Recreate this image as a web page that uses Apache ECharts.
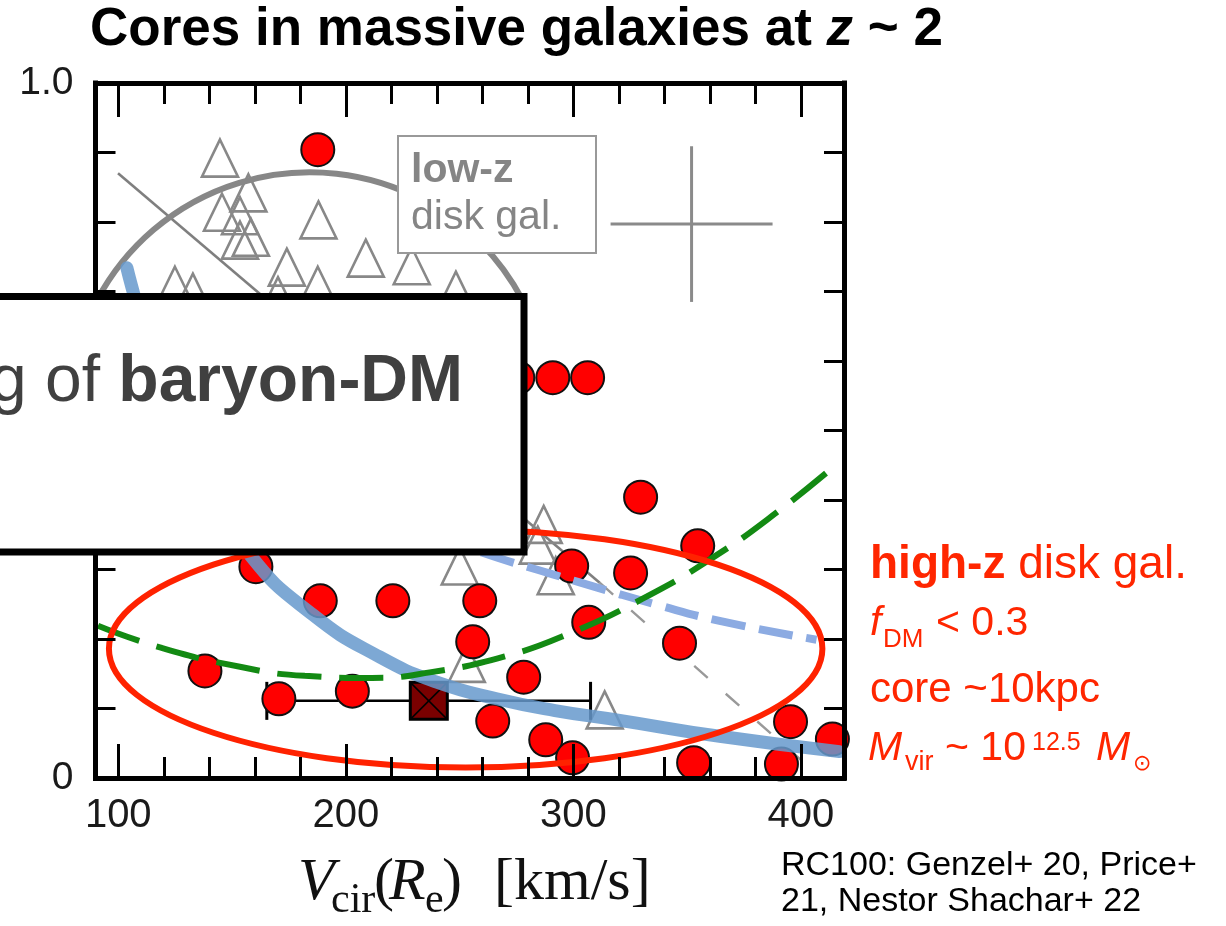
<!DOCTYPE html>
<html>
<head>
<meta charset="utf-8">
<script src="https://cdn.jsdelivr.net/npm/echarts@6/dist/echarts.min.js"></script>
<style>
  html, body { margin: 0; padding: 0; background: #fff; }
  #chart { width: 1226px; height: 926px; }
</style>
</head>
<body>
<div id="chart"></div>
<script>
// Dark-matter fraction within R_e versus circular velocity V_cir(R_e) [km/s]

// high-z disk galaxies (RC100), filled red circles: [V_cir, f_DM]
const highZ = [
  [187.7, 0.904], [291.0, 0.576], [306.3, 0.576], [275.6, 0.576],
  [329.6, 0.404], [354.7, 0.334], [299.3, 0.305], [325.2, 0.295],
  [160.5, 0.304], [188.8, 0.255], [220.7, 0.255], [258.9, 0.255],
  [255.8, 0.196], [138.1, 0.154], [170.6, 0.114], [202.9, 0.125],
  [306.8, 0.224], [278.2, 0.145], [264.6, 0.082], [287.9, 0.055],
  [299.7, 0.029], [346.7, 0.194], [352.9, 0.022], [395.5, 0.081],
  [391.5, 0.020], [413.9, 0.056]
];

// low-z disk galaxies, open gray triangles
const lowZ = [
  [144.7, 0.892], [157.2, 0.842], [145.6, 0.814], [153.5, 0.809],
  [158.3, 0.778], [153.5, 0.774], [188.0, 0.803], [174.1, 0.735],
  [187.7, 0.709], [208.8, 0.748], [229.0, 0.737], [124.9, 0.709],
  [132.8, 0.699], [248.4, 0.702], [170.2, 0.694], [287.0, 0.365],
  [250.1, 0.305], [284.4, 0.335], [292.3, 0.291], [253.2, 0.165],
  [313.8, 0.098]
];

// model curves
const blueSolid = [
  [103.8, 0.734], [120, 0.56], [138, 0.43], [157.9, 0.321], [185.5, 0.235],
  [215.0, 0.174], [240.0, 0.138], [266.3, 0.114], [292.0, 0.097], [320.4, 0.083],
  [364.3, 0.060], [417.0, 0.038]
];
const blueDashed = [
  [240.0, 0.350], [260.2, 0.324], [291.0, 0.293], [314.7, 0.270],
  [334.9, 0.251], [364.3, 0.226], [406.9, 0.199]
];
const greenDashed = [
  [91.1, 0.219], [118.3, 0.188], [153.5, 0.160], [182.0, 0.147],
  [211.5, 0.144], [236.9, 0.152], [269.9, 0.175], [298.4, 0.208],
  [330.5, 0.258], [360.8, 0.316], [389.8, 0.383], [417.0, 0.455]
];
const grayLine = [[99.9, 0.870], [311.6, 0.281]];
const grayLineExt = [[311.6, 0.281], [402.5, 0.019]];

// high-z median point with V_cir range: [x, y, xLow, xHigh]
const highZMedian = [[236.5, 0.111, 165.3, 307.6]];
// typical low-z uncertainty: [x, y, xLow, xHigh, yLow, yHigh]
const lowZTypicalErr = [[352.0, 0.797, 316.4, 387.6, 0.685, 0.909]];

// highlight outlines: [centerX, centerY, radiusX (km/s), radiusY]
const lowZRing = [[184.2, 0.525, 105.9]];
const highZOval = [[252.7, 0.186, 156.8, 0.171]];

// axis ticks
const xMajor = [100, 200, 300, 400];
const xMinor = [120, 140, 160, 180, 220, 240, 260, 280, 320, 340, 360, 380];
const yTickText = { 0: '0', 1: '1.0' };

const SANS = '"Liberation Sans", Arial, Helvetica, sans-serif';
const SERIF = '"Liberation Serif", "Times New Roman", serif';
const RED = '#ff2600';
const GRAY = '#858585';

const chart = echarts.init(document.getElementById('chart'), null, { renderer: 'canvas' });

function xAxisDef(position, ticks, len, withLine, withLabels) {
  return {
    type: 'value', min: 90, max: 419, position: position, z: 10,
    splitLine: { show: false },
    axisLine: { show: withLine, onZero: false, lineStyle: { color: '#000', width: 5, cap: 'square' } },
    axisTick: { show: true, inside: true, length: len, customValues: ticks, lineStyle: { color: '#000', width: 3 } },
    axisLabel: withLabels
      ? { show: true, customValues: ticks, margin: 18, fontSize: 40, color: '#1a1a1a', fontFamily: SANS }
      : { show: false }
  };
}

function yAxisDef(position, withLabels) {
  return {
    type: 'value', min: 0, max: 1, interval: 0.1, position: position, z: 10,
    splitLine: { show: false },
    axisLine: { show: true, onZero: false, lineStyle: { color: '#000', width: 5, cap: 'square' } },
    axisTick: { show: true, inside: true, length: 20, lineStyle: { color: '#000', width: 3 } },
    axisLabel: withLabels
      ? {
          show: true, margin: 22, fontSize: 39, color: '#1a1a1a', fontFamily: SANS,
          formatter: function (v) {
            const k = Math.round(v * 10) / 10;
            return yTickText[k] !== undefined ? yTickText[k] : '';
          }
        }
      : { show: false }
  };
}

// text placed by its baseline
function txt(text, x, base, size, o) {
  o = o || {};
  const family = o.family || SANS;
  const k = family === SERIF ? 0.3375 : 0.3465;
  return {
    type: 'text', x: x, y: base - k * size, z: o.z || 30,
    style: {
      text: text, fill: o.color || '#000', fontSize: size, fontFamily: family,
      fontWeight: o.weight || 'normal', fontStyle: o.style || 'normal',
      align: o.align || 'left', verticalAlign: 'middle'
    }
  };
}

const graphics = [
  // title
  {
    type: 'text', x: 90, y: 49 - 0.3465 * 53, z: 30,
    style: {
      text: '{b|Cores in massive galaxies at }{bi|z}{b| ~ 2}',
      verticalAlign: 'middle', align: 'left',
      rich: {
        b: { fontSize: 53, fontWeight: 'bold', fontFamily: SANS, fill: '#000' },
        bi: { fontSize: 53, fontWeight: 'bold', fontStyle: 'italic', fontFamily: SANS, fill: '#000' }
      }
    }
  },
  // low-z label box
  { type: 'rect', z: 25, shape: { x: 398, y: 136, width: 198, height: 117 },
    style: { fill: '#fff', stroke: '#999', lineWidth: 2 } },
  txt('low-z', 411, 185, 41, { color: GRAY, weight: 'bold' }),
  txt('disk gal.', 411, 232, 41, { color: GRAY }),

  // high-z labels
  {
    type: 'text', x: 870, y: 581 - 0.3465 * 46, z: 30,
    style: {
      text: '{b|high-z}{n| disk gal.}', verticalAlign: 'middle', align: 'left',
      rich: {
        b: { fontSize: 46, fontWeight: 'bold', fontFamily: SANS, fill: RED },
        n: { fontSize: 46, fontFamily: SANS, fill: RED }
      }
    }
  },
  txt('f', 870, 638, 41, { color: RED, style: 'italic' }),
  txt('DM', 883, 649, 26, { color: RED }),
  txt('< 0.3', 936, 638, 41, { color: RED }),
  txt('core ~10kpc', 870, 705, 42, { color: RED }),
  txt('M', 868, 763, 41, { color: RED, style: 'italic' }),
  txt('vir', 905, 772, 27, { color: RED }),
  txt('~ 10', 945, 763, 41, { color: RED }),
  txt('12.5', 1032, 752, 25, { color: RED }),
  txt('M', 1096, 763, 41, { color: RED, style: 'italic' }),
  txt('\u2299', 1133, 772, 22, { color: RED, family: '"DejaVu Sans", sans-serif' }),

  // references
  txt('RC100: Genzel+ 20, Price+', 781, 877, 34, { color: '#000' }),
  txt('21, Nestor Shachar+ 22', 781, 913, 34, { color: '#000' }),

  // x-axis title
  txt('V', 298, 903, 60, { family: SERIF, style: 'italic', color: '#111' }),
  txt('cir', 331, 915, 42, { family: SERIF, color: '#111' }),
  txt('(', 374, 903, 60, { family: SERIF, color: '#111' }),
  txt('R', 389, 903, 60, { family: SERIF, style: 'italic', color: '#111' }),
  txt('e', 425, 915, 42, { family: SERIF, color: '#111' }),
  txt(')', 442, 903, 60, { family: SERIF, color: '#111' }),
  txt('[km/s]', 494, 903, 60, { family: SERIF, color: '#111' }),

  // overlaid message panel
  { type: 'rect', z: 50, shape: { x: -12, y: 296.5, width: 536, height: 255.5 },
    style: { fill: '#fff', stroke: '#000', lineWidth: 7 } },
  {
    type: 'text', x: 463, y: 405.5 - 0.3465 * 66, z: 51,
    style: {
      text: '{n|g of }{b|baryon-DM}', align: 'right', verticalAlign: 'middle',
      rich: {
        n: { fontSize: 66, fontFamily: SANS, fill: '#404040' },
        b: { fontSize: 66, fontFamily: SANS, fontWeight: 'bold', fill: '#404040' }
      }
    }
  }
];

const option = {
  backgroundColor: '#fff',
  animation: false,
  grid: { left: 95.5, top: 83, width: 748.5, height: 695, containLabel: false, outerBoundsMode: 'none' },
  xAxis: [
    xAxisDef('bottom', xMajor, 34, true, true),
    xAxisDef('bottom', xMinor, 21, false, false),
    xAxisDef('top', xMajor, 34, true, false),
    xAxisDef('top', xMinor, 21, false, false)
  ],
  yAxis: [yAxisDef('left', true), yAxisDef('right', false)],
  graphic: graphics,
  series: [
    {
      name: 'gray line', type: 'line', data: grayLine, z: 2, showSymbol: false, silent: true,
      lineStyle: { color: '#7f7f7f', width: 2.6 }
    },
    {
      name: 'gray line ext', type: 'line', data: grayLineExt, z: 2, showSymbol: false, silent: true,
      lineStyle: { color: '#999', width: 2.4, type: [18, 24] }
    },
    {
      name: 'low-z', type: 'scatter', data: lowZ, z: 3, symbol: 'triangle', symbolSize: [36, 37],
      itemStyle: { color: 'rgba(255,255,255,0)', borderColor: '#888', borderWidth: 2.6, opacity: 1 }
    },
    {
      name: 'low-z ring', type: 'custom', data: lowZRing, z: 4, silent: true,
      renderItem: function (params, api) {
        const c = api.coord([api.value(0), api.value(1)]);
        const r = api.size([api.value(2), 0])[0];
        return {
          type: 'arc',
          shape: { cx: c[0], cy: c[1], r: r, startAngle: Math.PI + 0.488, endAngle: 2 * Math.PI - 0.488, clockwise: true },
          style: { stroke: '#878787', lineWidth: 6, fill: null }
        };
      }
    },
    {
      name: 'low-z error', type: 'custom', data: lowZTypicalErr, z: 4, silent: true,
      renderItem: function (params, api) {
        const y = api.value(1), x = api.value(0);
        const a = api.coord([api.value(2), y]), b = api.coord([api.value(3), y]);
        const c = api.coord([x, api.value(4)]), d = api.coord([x, api.value(5)]);
        const st = { stroke: '#8a8a8a', lineWidth: 3 };
        return {
          type: 'group', children: [
            { type: 'line', shape: { x1: a[0], y1: a[1], x2: b[0], y2: b[1] }, style: st },
            { type: 'line', shape: { x1: c[0], y1: c[1], x2: d[0], y2: d[1] }, style: st }
          ]
        };
      }
    },
    {
      name: 'high-z', type: 'scatter', data: highZ, z: 5, symbol: 'circle', symbolSize: 33,
      itemStyle: { color: '#ff0000', borderColor: '#111', borderWidth: 2, opacity: 1 }
    },
    {
      name: 'median', type: 'custom', data: highZMedian, z: 5, silent: true,
      renderItem: function (params, api) {
        const y = api.value(1);
        const p = api.coord([api.value(0), y]);
        const a = api.coord([api.value(2), y]), b = api.coord([api.value(3), y]);
        const h = 19, s = 18.5;
        const st = { stroke: '#000', lineWidth: 2.5 };
        return {
          type: 'group', children: [
            { type: 'line', shape: { x1: a[0], y1: a[1], x2: b[0], y2: b[1] }, style: st },
            { type: 'line', shape: { x1: a[0], y1: a[1] - h, x2: a[0], y2: a[1] + h }, style: { stroke: '#000', lineWidth: 3 } },
            { type: 'line', shape: { x1: b[0], y1: b[1] - h, x2: b[0], y2: b[1] + h }, style: { stroke: '#000', lineWidth: 3 } },
            { type: 'rect', shape: { x: p[0] - s, y: p[1] - s, width: 2 * s, height: 2 * s },
              style: { fill: '#7a0000', stroke: '#000', lineWidth: 3 } },
            { type: 'line', shape: { x1: p[0] - s, y1: p[1] - s, x2: p[0] + s, y2: p[1] + s }, style: { stroke: '#000', lineWidth: 1.5 } },
            { type: 'line', shape: { x1: p[0] - s, y1: p[1] + s, x2: p[0] + s, y2: p[1] - s }, style: { stroke: '#000', lineWidth: 1.5 } }
          ]
        };
      }
    },
    {
      name: 'blue solid', type: 'line', data: blueSolid, z: 6, showSymbol: false, silent: true,
      smooth: 0.5,
      lineStyle: { color: '#6699cc', width: 13, opacity: 0.85, cap: 'round' }
    },
    {
      name: 'blue dashed', type: 'line', data: blueDashed, z: 6, showSymbol: false, silent: true,
      smooth: 0.5,
      lineStyle: { color: '#8cabe2', width: 8, type: [34, 14] }
    },
    {
      name: 'green dashed', type: 'line', data: greenDashed, z: 7, showSymbol: false, silent: true,
      smooth: 0.5,
      lineStyle: { color: '#138a13', width: 6, type: [44, 18] }
    },
    {
      name: 'high-z oval', type: 'custom', data: highZOval, z: 8, silent: true,
      renderItem: function (params, api) {
        const c = api.coord([api.value(0), api.value(1)]);
        const sz = api.size([api.value(2), api.value(3)]);
        return {
          type: 'ellipse',
          shape: { cx: c[0], cy: c[1], rx: sz[0], ry: sz[1] },
          style: { stroke: '#ff2200', lineWidth: 6, fill: null }
        };
      }
    }
  ]
};

chart.setOption(option);
</script>
</body>
</html>
